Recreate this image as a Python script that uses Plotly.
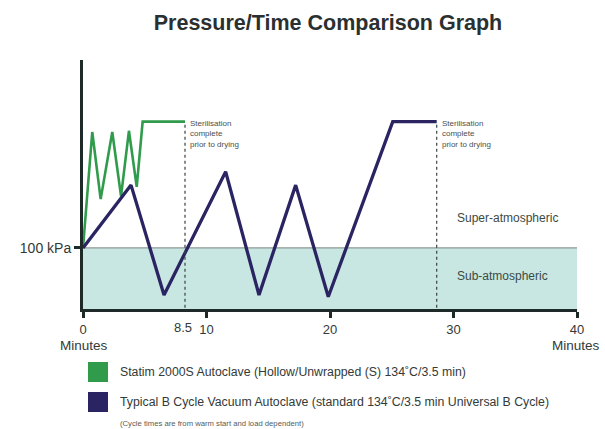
import plotly.graph_objects as go

# ---- data (minutes, kPa) ----
green_t = [0, 0.75, 1.43, 2.37, 3.08, 3.72, 4.35, 4.83, 8.26]
green_p = [100, 290, 180, 290, 185, 292, 200, 307, 307]
blue_t = [0, 3.89, 6.56, 11.55, 14.25, 17.22, 19.86, 25.08, 28.64]
blue_p = [100, 203, 23, 225, 23, 203, 20, 307, 307]
atm_kpa = 100
x_ticks = [0, 10, 20, 30, 40]
green_name = "Statim 2000S Autoclave (Hollow/Unwrapped (S) 134˚C/3.5 min)"
blue_name = "Typical B Cycle Vacuum Autoclave (standard 134˚C/3.5 min Universal B Cycle)"
footnote = "(Cycle times are from warm start and load dependent)"
steril_text = "Sterilisation<br>complete<br>prior to drying"

GREEN = "#2f9b4b"
BLUE = "#2a2562"
AXIS = "#1d2a27"
TXT = "#333a38"
FONT = "Liberation Sans, Arial, sans-serif"

fig = go.Figure()

fig.add_trace(go.Scatter(x=green_t, y=green_p, mode="lines",
                         line=dict(color=GREEN, width=2.6), hoverinfo="skip",
                         showlegend=False))
fig.add_trace(go.Scatter(x=blue_t, y=blue_p, mode="lines",
                         line=dict(color=BLUE, width=3.3), hoverinfo="skip",
                         showlegend=False))

shapes = []
# sub-atmospheric band
shapes.append(dict(type="rect", xref="x", yref="y", x0=0, x1=40, y0=0, y1=atm_kpa,
                   fillcolor="#c8e6e2", line=dict(width=0), layer="below"))
shapes.append(dict(type="line", xref="x", yref="y", x0=0, x1=40, y0=atm_kpa, y1=atm_kpa,
                   line=dict(color="#8a9995", width=1.3), layer="below"))
# sterilisation complete dotted lines
for t_end, p_end in [(green_t[-1], green_p[-1]), (blue_t[-1], blue_p[-1])]:
    shapes.append(dict(type="line", xref="x", yref="y", x0=t_end, x1=t_end, y0=2, y1=p_end,
                       line=dict(color="#3a4442", width=1.2, dash="dot")))

# legend boxes (paper coords)
def px2paper_x(px):
    return (px - 83) / 494.0

def py2paper_y(py):
    return (309 - py) / 249.0

shapes.append(dict(type="rect", xref="paper", yref="paper",
                   x0=px2paper_x(88), x1=px2paper_x(108), y0=py2paper_y(382), y1=py2paper_y(362),
                   fillcolor=GREEN, line=dict(width=0)))
shapes.append(dict(type="rect", xref="paper", yref="paper",
                   x0=px2paper_x(88), x1=px2paper_x(108), y0=py2paper_y(412), y1=py2paper_y(392),
                   fillcolor=BLUE, line=dict(width=0)))

annotations = []
for t_end, p_end in [(green_t[-1], green_p[-1]), (blue_t[-1], blue_p[-1])]:
    annotations.append(dict(x=t_end, y=p_end, xref="x", yref="y", text=steril_text,
                            showarrow=False, xanchor="left", yanchor="top", align="left",
                            xshift=3, yshift=5, font=dict(family=FONT, size=8, color="#4a4f4e")))

annotations.append(dict(x=30.1, y=149, xref="x", yref="y", text="Super-atmospheric",
                        showarrow=False, xanchor="left",
                        font=dict(family=FONT, size=12, color="#3b4a44")))
annotations.append(dict(x=30.1, y=54, xref="x", yref="y", text="Sub-atmospheric",
                        showarrow=False, xanchor="left",
                        font=dict(family=FONT, size=12, color="#3b4a44")))

annotations.append(dict(x=green_t[-1], y=py2paper_y(327), xref="x", yref="paper", text="8.5",
                        showarrow=False, yanchor="middle", xshift=-2,
                        font=dict(family=FONT, size=13, color=TXT)))
annotations.append(dict(x=0, y=py2paper_y(345), xref="x", yref="paper", text="Minutes",
                        showarrow=False, yanchor="middle", xshift=1,
                        font=dict(family=FONT, size=13.5, color=TXT)))
annotations.append(dict(x=40, y=py2paper_y(345), xref="x", yref="paper", text="Minutes",
                        showarrow=False, yanchor="middle", xshift=-1,
                        font=dict(family=FONT, size=13.5, color=TXT)))

annotations.append(dict(x=px2paper_x(118), y=py2paper_y(372), xref="paper", yref="paper",
                        text=green_name, showarrow=False, xanchor="left", yanchor="middle",
                        font=dict(family=FONT, size=12.3, color=TXT)))
annotations.append(dict(x=px2paper_x(118), y=py2paper_y(402), xref="paper", yref="paper",
                        text=blue_name, showarrow=False, xanchor="left", yanchor="middle",
                        font=dict(family=FONT, size=12.3, color=TXT)))
annotations.append(dict(x=px2paper_x(118), y=py2paper_y(423), xref="paper", yref="paper",
                        text=footnote, showarrow=False, xanchor="left", yanchor="middle",
                        font=dict(family=FONT, size=7.7, color="#555c5a")))

fig.update_layout(
    width=605, height=429,
    margin=dict(l=83, r=28, t=60, b=120),
    paper_bgcolor="white", plot_bgcolor="white",
    title=dict(text="<b>Pressure/Time Comparison Graph</b>", x=px2paper_x(328), xref="paper",
               y=1 - 22 / 429.0, yref="container", xanchor="center", yanchor="middle",
               font=dict(family=FONT, size=21.5, color="#2a302f")),
    shapes=shapes, annotations=annotations,
    xaxis=dict(range=[0, 40], tickvals=x_ticks, ticks="outside", ticklen=6, tickwidth=3,
               tickcolor=AXIS, showline=True, linecolor=AXIS, linewidth=3, showgrid=False,
               zeroline=False, tickfont=dict(family=FONT, size=13, color=TXT), fixedrange=True),
    yaxis=dict(range=[0, 408], tickvals=[atm_kpa], ticktext=["100 kPa"], ticks="outside",
               ticklen=6, tickwidth=3, tickcolor=AXIS, showline=True, linecolor=AXIS,
               linewidth=3, showgrid=False, zeroline=False,
               tickfont=dict(family=FONT, size=14, color=TXT), fixedrange=True),
)

fig.write_html("out.html", config={"displayModeBar": False},
               post_script="document.body.style.margin='0';document.body.style.overflow='hidden';")
